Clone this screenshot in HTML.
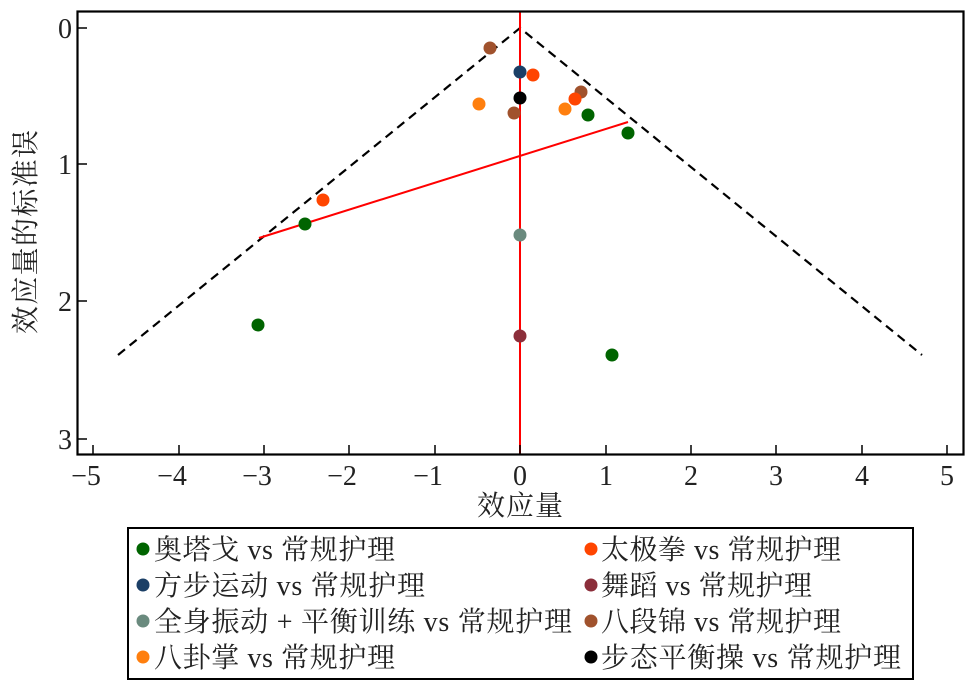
<!DOCTYPE html>
<html><head><meta charset="utf-8"><style>
body{margin:0;background:#fff}
svg{display:block;font-family:"Liberation Serif","Noto Serif CJK SC",serif}
</style></head><body>
<svg width="976" height="691" viewBox="0 0 976 691" xmlns="http://www.w3.org/2000/svg">
<rect width="976" height="691" fill="#fff"/>
<polyline points="118,355 520,28 922,355" fill="none" stroke="#000" stroke-width="2.2" stroke-dasharray="9,6"/>
<line x1="520" y1="12" x2="520" y2="454" stroke="#f00" stroke-width="2"/>
<line x1="259" y1="238" x2="628" y2="122" stroke="#f00" stroke-width="2"/>
<rect x="77.5" y="11.5" width="886" height="443" fill="none" stroke="#000" stroke-width="2.2"/>
<g stroke="#000" stroke-width="1.5">
<line x1="78" y1="28" x2="87" y2="28"/><line x1="78" y1="164" x2="87" y2="164"/><line x1="78" y1="301" x2="87" y2="301"/><line x1="78" y1="439" x2="87" y2="439"/>
<line x1="93" y1="454" x2="93" y2="445"/><line x1="179" y1="454" x2="179" y2="445"/><line x1="264" y1="454" x2="264" y2="445"/><line x1="349" y1="454" x2="349" y2="445"/><line x1="435" y1="454" x2="435" y2="445"/><line x1="520" y1="454" x2="520" y2="445"/><line x1="606" y1="454" x2="606" y2="445"/><line x1="691" y1="454" x2="691" y2="445"/><line x1="776" y1="454" x2="776" y2="445"/><line x1="862" y1="454" x2="862" y2="445"/><line x1="947" y1="454" x2="947" y2="445"/>
</g>
<g font-size="28" fill="#222" text-anchor="end">
<text x="72" y="38">0</text><text x="72" y="174">1</text><text x="72" y="311">2</text><text x="72" y="449">3</text>
</g>
<g font-size="28" fill="#222" text-anchor="middle">
<text x="86" y="485">−5</text><text x="172" y="485">−4</text><text x="257" y="485">−3</text><text x="342" y="485">−2</text><text x="428" y="485">−1</text><text x="520" y="485">0</text><text x="606" y="485">1</text><text x="691" y="485">2</text><text x="776" y="485">3</text><text x="862" y="485">4</text><text x="947" y="485">5</text>
<text x="520" y="515" textLength="86">效应量</text>
<text transform="translate(35,232) rotate(-90)" textLength="204">效应量的标准误</text>
</g>
<g stroke="none">
<circle cx="628" cy="133" r="6.5" fill="#006400"/><circle cx="588" cy="115" r="6.5" fill="#006400"/><circle cx="305" cy="224" r="6.5" fill="#006400"/><circle cx="258" cy="325" r="6.5" fill="#006400"/><circle cx="612" cy="355" r="6.5" fill="#006400"/>
<circle cx="490" cy="48" r="6.5" fill="#a0522d"/><circle cx="581" cy="92" r="6.5" fill="#a0522d"/><circle cx="514" cy="113" r="6.5" fill="#a0522d"/>
<circle cx="520" cy="72" r="6.5" fill="#1b3f66"/>
<circle cx="533" cy="75" r="6.5" fill="#ff4500"/><circle cx="575" cy="99" r="6.5" fill="#ff4500"/><circle cx="323" cy="200" r="6.5" fill="#ff4500"/>
<circle cx="479" cy="104" r="6.5" fill="#ff7f0e"/><circle cx="565" cy="109" r="6.5" fill="#ff7f0e"/>
<circle cx="520" cy="98" r="6.5" fill="#000"/>
<circle cx="520" cy="235" r="6.5" fill="#6a8a7e"/>
<circle cx="520" cy="336" r="6.5" fill="#8b2e3a"/>
</g>
<rect x="128" y="528" width="785" height="151" fill="#fff" stroke="#000" stroke-width="2"/>
<g font-size="28" fill="#222">
<circle cx="143" cy="549" r="6.5" fill="#006400"/><text x="154" y="559" textLength="241">奥塔戈 vs 常规护理</text>
<circle cx="143" cy="585" r="6.5" fill="#1b3f66"/><text x="154" y="595" textLength="271">方步运动 vs 常规护理</text>
<circle cx="143" cy="621" r="6.5" fill="#6a8a7e"/><text x="154" y="631" textLength="418">全身振动 + 平衡训练 vs 常规护理</text>
<circle cx="143" cy="657" r="6.5" fill="#ff7f0e"/><text x="154" y="667" textLength="241">八卦掌 vs 常规护理</text>
<circle cx="591" cy="549" r="6.5" fill="#ff4500"/><text x="601" y="559" textLength="240">太极拳 vs 常规护理</text>
<circle cx="591" cy="585" r="6.5" fill="#8b2e3a"/><text x="601" y="595" textLength="211">舞蹈 vs 常规护理</text>
<circle cx="591" cy="621" r="6.5" fill="#a0522d"/><text x="601" y="631" textLength="240">八段锦 vs 常规护理</text>
<circle cx="591" cy="657" r="6.5" fill="#000"/><text x="601" y="667" textLength="300">步态平衡操 vs 常规护理</text>
</g>
</svg>
</body></html>
